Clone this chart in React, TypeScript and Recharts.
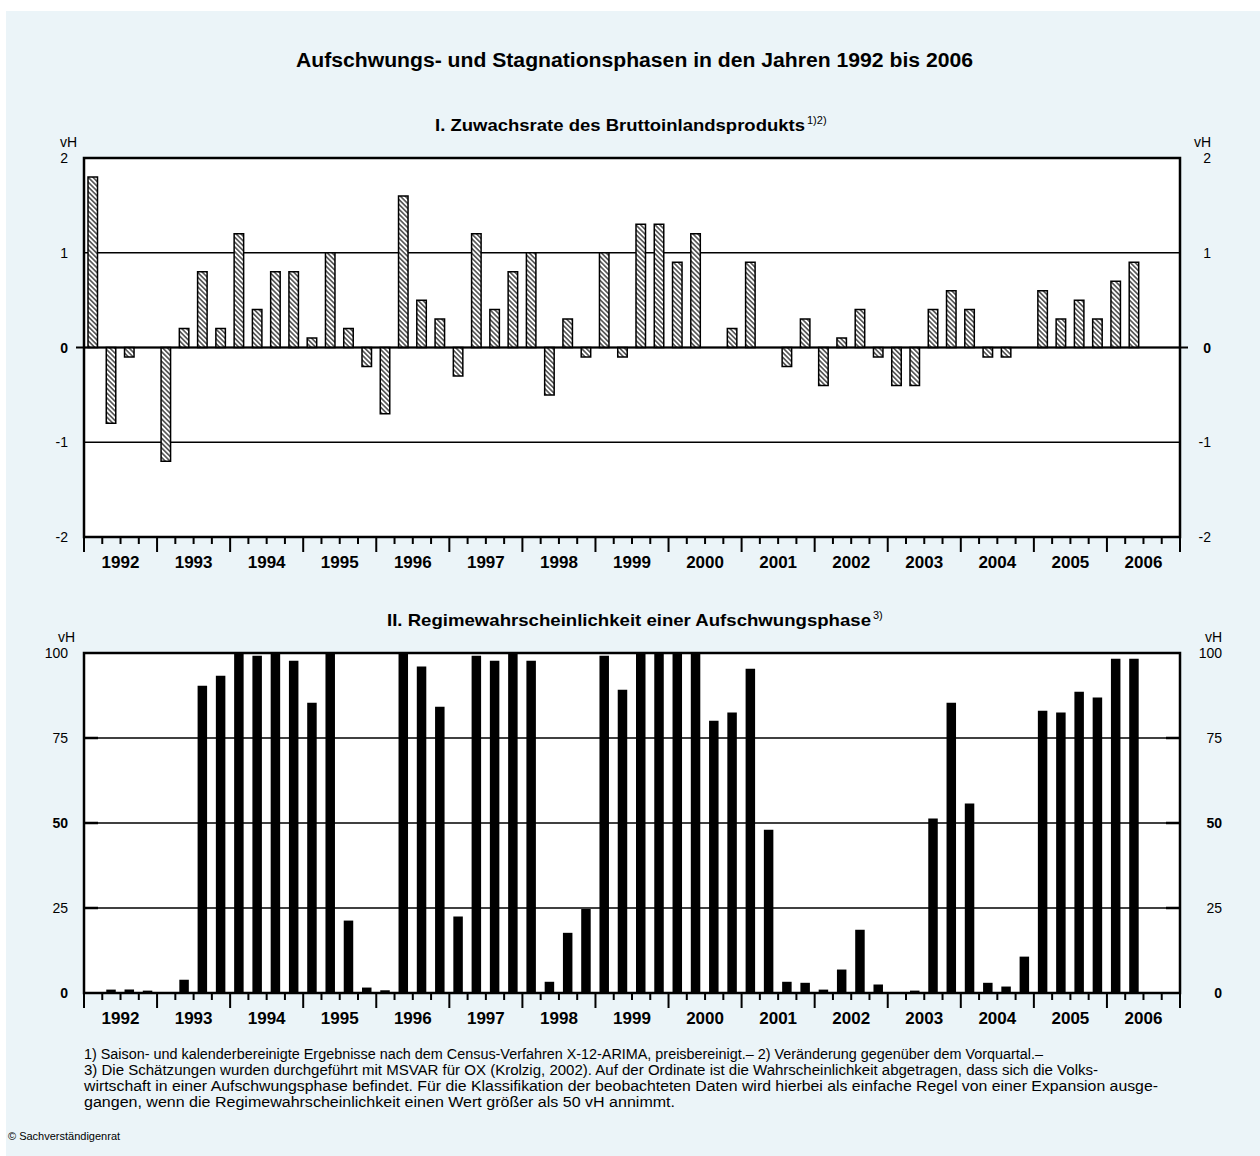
import React from "react";
import { BarChart, Bar, XAxis, YAxis, CartesianGrid, ReferenceLine, ReferenceArea } from "recharts";

const FONT = '"Liberation Sans", Arial, Helvetica, sans-serif';

// ---------- data ----------
const years = ["1992","1993","1994","1995","1996","1997","1998","1999","2000","2001","2002","2003","2004","2005","2006"];
const quarters = ["Q1", "Q2", "Q3", "Q4"];
const quarterLabels = years.flatMap((y) => quarters.map((q) => `${y} ${q}`));

// I. Zuwachsrate des BIP (vH, Veränderung gegenüber Vorquartal)
const gdpGrowth: (number | null)[] = [
  1.8, -0.8, -0.1, 0.0,
  -1.2, 0.2, 0.8, 0.2,
  1.2, 0.4, 0.8, 0.8,
  0.1, 1.0, 0.2, -0.2,
  -0.7, 1.6, 0.5, 0.3,
  -0.3, 1.2, 0.4, 0.8,
  1.0, -0.5, 0.3, -0.1,
  1.0, -0.1, 1.3, 1.3,
  0.9, 1.2, 0.0, 0.2,
  0.9, 0.0, -0.2, 0.3,
  -0.4, 0.1, 0.4, -0.1,
  -0.4, -0.4, 0.4, 0.6,
  0.4, -0.1, -0.1, 0.0,
  0.6, 0.3, 0.5, 0.3,
  0.7, 0.9, null, null,
];

// II. Regimewahrscheinlichkeit einer Aufschwungsphase (vH)
const regimeProbability: (number | null)[] = [
  null, 1.0, 1.0, 0.7,
  null, 3.9, 90.4, 93.3,
  100, 99.2, 100, 97.7,
  85.4, 100, 21.3, 1.6,
  0.8, 100, 96.0, 84.2,
  22.5, 99.2, 97.7, 99.7,
  97.7, 3.3, 17.7, 24.7,
  99.2, 89.2, 100, 100,
  100, 100, 80.1, 82.5,
  95.4, 48.0, 3.3, 3.0,
  1.0, 6.9, 18.6, 2.5,
  null, 0.7, 51.3, 85.4,
  55.7, 3.0, 1.9, 10.7,
  83.0, 82.5, 88.6, 86.9,
  98.3, 98.3, null, null,
];

const gdpTicks = [-2, -1, 0, 1, 2];
const probTicks = [0, 25, 50, 75, 100];

const gdpData = quarterLabels.map((q, i) => ({ q, value: gdpGrowth[i] }));
const probData = quarterLabels.map((q, i) => ({ q, value: regimeProbability[i] }));

// ---------- tick renderers ----------
const QuarterTick = (props: any) => {
  const { x, y, payload, index, width } = props;
  const n = quarterLabels.length;
  const half = payload && payload.offset ? payload.offset : width / n / 2;
  const left = x - half;
  const els: any[] = [];
  els.push(
    <line key="t" x1={left} x2={left} y1={y} y2={y + (index % 4 === 0 ? 15 : 7)} stroke="#000" strokeWidth={2} />
  );
  if (index === n - 1) {
    els.push(<line key="e" x1={x + half} x2={x + half} y1={y} y2={y + 15} stroke="#000" strokeWidth={2} />);
  }
  if (index % 4 === 2) {
    els.push(
      <text key="l" x={left} y={y + 25} textAnchor="middle" dominantBaseline="central"
        fontFamily={FONT} fontSize={17} fontWeight="bold" fill="#000">
        {years[Math.floor(index / 4)]}
      </text>
    );
  }
  return <g>{els}</g>;
};

type YTickOpts = {
  side: "left" | "right";
  bold: number[];
  top: number;
  gap: number;
  unitGap: number;
  zeroExt?: boolean;
  inner?: number[];
};

const makeYTick = (o: YTickOpts) => (props: any) => {
  const { x, y, payload } = props;
  const v = payload.value;
  const dir = o.side === "left" ? -1 : 1;
  const tx = o.side === "left" ? x - o.gap : x + o.gap;
  const els: any[] = [];
  els.push(
    <text key="v" x={tx} y={y} textAnchor="end" dominantBaseline="central" fontFamily={FONT}
      fontSize={14} fontWeight={o.bold.includes(v) ? "bold" : "normal"} fill="#000">
      {String(v)}
    </text>
  );
  if (v === o.top) {
    const ux = o.side === "left" ? x - o.unitGap : x + o.unitGap;
    els.push(
      <text key="u" x={ux} y={y - 16} textAnchor="end" dominantBaseline="central" fontFamily={FONT}
        fontSize={14} fill="#000">vH</text>
    );
  }
  if (o.zeroExt && v === 0) {
    els.push(<line key="z" x1={x} x2={x + dir * 8} y1={y} y2={y} stroke="#000" strokeWidth={2} />);
  }
  if (o.inner && o.inner.includes(v)) {
    els.push(<line key="i" x1={x} x2={x - dir * 14} y1={y} y2={y} stroke="#000" strokeWidth={2.5} />);
  }
  return <g>{els}</g>;
};

const GdpLeftTick = makeYTick({ side: "left", bold: [0], top: 2, gap: 16, unitGap: 7, zeroExt: true });
const GdpRightTick = makeYTick({ side: "right", bold: [0], top: 2, gap: 31, unitGap: 31, zeroExt: true });
const ProbLeftTick = makeYTick({ side: "left", bold: [0, 50], top: 100, gap: 16, unitGap: 9, inner: [25, 50, 75] });
const ProbRightTick = makeYTick({ side: "right", bold: [0, 50], top: 100, gap: 42, unitGap: 42, inner: [25, 50, 75] });

// ---------- charts ----------
const GdpChart = () => (
  <BarChart width={1260} height={450} data={gdpData} margin={{ top: 28, right: 0, bottom: 3, left: 0 }}
    barCategoryGap={0}>
    <CartesianGrid yAxisId="l" vertical={false} stroke="#000" strokeWidth={1.5} fill="#fff" fillOpacity={1} />
    <XAxis dataKey="q" height={40} interval={0} tickSize={0} tickMargin={0} axisLine={false} tickLine={false}
      tick={QuarterTick} />
    <YAxis yAxisId="l" orientation="left" width={84} domain={[-2, 2]} ticks={gdpTicks} interval={0}
      tickSize={0} tickMargin={0} axisLine={false} tickLine={false} tick={GdpLeftTick} allowDataOverflow />
    <YAxis yAxisId="r" orientation="right" width={80} domain={[-2, 2]} ticks={gdpTicks} interval={0}
      tickSize={0} tickMargin={0} axisLine={false} tickLine={false} tick={GdpRightTick} allowDataOverflow />
    <ReferenceLine yAxisId="l" y={0} stroke="#000" strokeWidth={2} />
    <Bar yAxisId="l" dataKey="value" fill="url(#hatch)" stroke="#000" strokeWidth={1.5} barSize={9.5}
      isAnimationActive={false} />
    <ReferenceArea yAxisId="l" y1={-2} y2={2} fill="none" fillOpacity={0} stroke="#000" strokeWidth={2.5} />
  </BarChart>
);

const ProbChart = () => (
  <BarChart width={1260} height={420} data={probData} margin={{ top: 33, right: 0, bottom: 7, left: 0 }}
    barCategoryGap={0}>
    <CartesianGrid yAxisId="l" vertical={false} stroke="#000" strokeWidth={1.5} fill="#fff" fillOpacity={1} />
    <XAxis dataKey="q" height={40} interval={0} tickSize={0} tickMargin={0} axisLine={false} tickLine={false}
      tick={QuarterTick} />
    <YAxis yAxisId="l" orientation="left" width={84} domain={[0, 100]} ticks={probTicks} interval={0}
      tickSize={0} tickMargin={0} axisLine={false} tickLine={false} tick={ProbLeftTick} allowDataOverflow />
    <YAxis yAxisId="r" orientation="right" width={80} domain={[0, 100]} ticks={probTicks} interval={0}
      tickSize={0} tickMargin={0} axisLine={false} tickLine={false} tick={ProbRightTick} allowDataOverflow />
    <Bar yAxisId="l" dataKey="value" fill="#000" barSize={9.5} isAnimationActive={false} />
    <ReferenceArea yAxisId="l" y1={0} y2={100} fill="none" fillOpacity={0} stroke="#000" strokeWidth={2.5} />
  </BarChart>
);

const title = "Aufschwungs- und Stagnationsphasen in den Jahren 1992 bis 2006";
const subtitle1 = "I. Zuwachsrate des Bruttoinlandsprodukts";
const subtitle1Note = "1)2)";
const subtitle2 = "II. Regimewahrscheinlichkeit einer Aufschwungsphase";
const subtitle2Note = "3)";
const footnotes = [
  "1) Saison- und kalenderbereinigte Ergebnisse nach dem Census-Verfahren X-12-ARIMA, preisbereinigt.– 2) Veränderung gegenüber dem Vorquartal.–",
  "3) Die Schätzungen wurden durchgeführt mit MSVAR für OX (Krolzig, 2002). Auf der Ordinate ist die Wahrscheinlichkeit abgetragen, dass sich die Volks-",
  "wirtschaft in einer Aufschwungsphase befindet. Für die Klassifikation der beobachteten Daten wird hierbei als einfache Regel von einer Expansion ausge-",
  "gangen, wenn die Regimewahrscheinlichkeit einen Wert größer als 50 vH annimmt.",
];
const footnoteWidths = [959, 1014, 1074, 591];
const source = "© Sachverständigenrat";

export default function App() {
  return (
    <div style={{ position: "absolute", left: 0, top: 0, width: 1260, height: 1156, background: "#fff",
      fontFamily: FONT, color: "#000", overflow: "hidden" }}>
      <svg width={0} height={0} style={{ position: "absolute" }}>
        <defs>
          <pattern id="hatch" patternUnits="userSpaceOnUse" width={3.4} height={3.4} patternTransform="rotate(-45)">
            <rect x={0} y={0} width={3.4} height={3.4} fill="#fff" />
            <line x1={1.7} y1={0} x2={1.7} y2={3.4} stroke="#000" strokeWidth={1.1} />
          </pattern>
        </defs>
      </svg>
      <div style={{ position: "absolute", left: 6, top: 11, width: 1254, height: 1145, background: "#ebf4f8" }} />

      <div style={{ position: "absolute", left: 0, top: 130 }}>
        <GdpChart />
      </div>
      <div style={{ position: "absolute", left: 0, top: 620 }}>
        <ProbChart />
      </div>

      <svg width={1260} height={1156} style={{ position: "absolute", left: 0, top: 0, pointerEvents: "none" }}
        fontFamily={FONT} fill="#000">
        <text x={296} y={66.5} fontSize={19.5} fontWeight="bold" textLength={677} lengthAdjust="spacingAndGlyphs">{title}</text>
        <text x={435} y={131} fontSize={17} fontWeight="bold" textLength={370} lengthAdjust="spacingAndGlyphs">{subtitle1}</text>
        <text x={807} y={124} fontSize={11}>{subtitle1Note}</text>
        <text x={387} y={626} fontSize={17} fontWeight="bold" textLength={484} lengthAdjust="spacingAndGlyphs">{subtitle2}</text>
        <text x={873} y={619} fontSize={11}>{subtitle2Note}</text>
        {footnotes.map((t, i) => (
          <text key={i} x={84} y={1058.5 + i * 16} fontSize={14} textLength={footnoteWidths[i]}
            lengthAdjust="spacingAndGlyphs">{t}</text>
        ))}
        <text x={8} y={1140} fontSize={11}>{source}</text>
      </svg>
    </div>
  );
}
